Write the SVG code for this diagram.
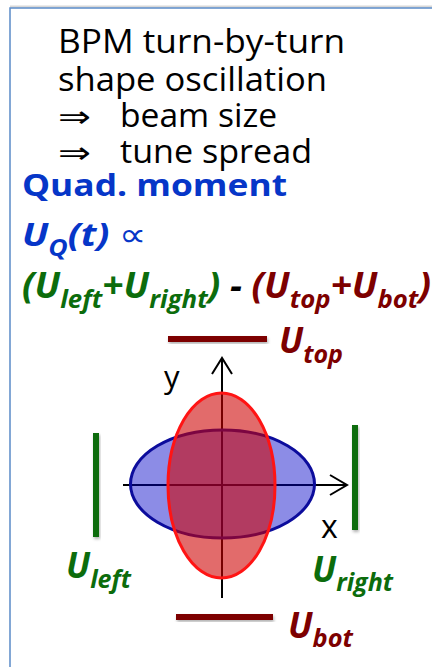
<svg xmlns="http://www.w3.org/2000/svg" width="432" height="667" viewBox="0 0 432 667">
<defs>
<style>
.txt{font-family:"Open Sans","DejaVu Sans","Liberation Sans",sans-serif;fill:#000}
.arr{font-family:"DejaVu Sans",sans-serif;font-weight:normal}
.bi{font-family:"Open Sans","Liberation Sans",sans-serif;font-weight:bold;font-style:italic}
.blue{fill:#0636c8}
.green{fill:#0c6c0c}
.dred{fill:#7d0000}
.ax{stroke:#000;stroke-width:2;fill:none}
</style>
<filter id="sh" x="-30%" y="-30%" width="160%" height="160%">
<feDropShadow dx="1" dy="2" stdDeviation="1.5" flood-color="#000" flood-opacity="0.3"/>
</filter>
</defs>
<rect width="432" height="667" fill="#fff"/>
<line x1="10" y1="6.5" x2="432" y2="6.5" stroke="#d8d8d8" stroke-width="2"/>
<rect x="10" y="8" width="440" height="680" fill="#fff" stroke="#5a8ac8" stroke-width="1.5"/>

<g id="text-block">
<text class="txt" x="58" y="53" font-size="33" textLength="287" lengthAdjust="spacingAndGlyphs">BPM turn-by-turn</text>
<text class="txt" x="58" y="91" font-size="33" textLength="269" lengthAdjust="spacingAndGlyphs">shape oscillation</text>
<text class="txt" x="58" y="127" font-size="33"><tspan class="arr" font-size="30" textLength="33" lengthAdjust="spacingAndGlyphs">⇒</tspan><tspan x="120" textLength="157" lengthAdjust="spacingAndGlyphs">beam size</tspan></text>
<text class="txt" x="58" y="163" font-size="33"><tspan class="arr" font-size="30" textLength="33" lengthAdjust="spacingAndGlyphs">⇒</tspan><tspan x="120" textLength="192" lengthAdjust="spacingAndGlyphs">tune spread</tspan></text>
<text class="blue" x="22" y="196" font-size="31" font-weight="bold" font-family="Open Sans, Liberation Sans, sans-serif" textLength="265" lengthAdjust="spacingAndGlyphs">Quad. moment</text>
<text class="bi blue" x="22" y="246" font-size="33" textLength="125" lengthAdjust="spacingAndGlyphs">U<tspan font-size="23" dy="10">Q</tspan><tspan dy="-10">(t) </tspan><tspan font-weight="normal" font-style="normal">∝</tspan></text>
<text class="bi" x="22" y="298" font-size="36" textLength="409" lengthAdjust="spacingAndGlyphs"><tspan class="green">(U</tspan><tspan class="green" font-size="25" dy="10">left</tspan><tspan class="green" dy="-10">+U</tspan><tspan class="green" font-size="25" dy="10">right</tspan><tspan class="green" dy="-10">)</tspan><tspan fill="#000"> - </tspan><tspan class="dred">(U</tspan><tspan class="dred" font-size="25" dy="10">top</tspan><tspan class="dred" dy="-10">+U</tspan><tspan class="dred" font-size="25" dy="10">bot</tspan><tspan class="dred" dy="-10">)</tspan></text>
</g>

<g id="connectors">
<line class="ax" x1="123" y1="485" x2="347" y2="485"/>
<polyline class="ax" points="330,475 347,485 330,495"/>
<line class="ax" x1="222" y1="598" x2="222" y2="358"/>
<polyline class="ax" points="212,374 222,358 232,374"/>
</g>

<g id="beam-x">
<ellipse cx="222.5" cy="484" rx="92" ry="54" fill="rgb(0,0,200)" fill-opacity="0.45" stroke="#0c0c9c" stroke-width="3"/>
</g>
<g id="beam-y">
<ellipse cx="221.5" cy="485.5" rx="53.5" ry="92.5" fill="#cd0000" fill-opacity="0.58" stroke="#ff1414" stroke-width="3"/>
</g>

<g id="axis-labels">
<text class="txt" x="164" y="388" font-size="31">y</text>
<text class="txt" x="321" y="538" font-size="32">x</text>
</g>

<g id="electrode-top">
<rect x="168" y="336" width="99" height="6" fill="#7d0000" filter="url(#sh)"/>
<text class="bi dred" x="279" y="353" font-size="35" textLength="64" lengthAdjust="spacingAndGlyphs">U<tspan font-size="25" dy="10">top</tspan></text>
</g>
<g id="electrode-bot">
<rect x="176" y="614" width="97" height="6" fill="#7d0000" filter="url(#sh)"/>
<text class="bi dred" x="288" y="638" font-size="35" textLength="65" lengthAdjust="spacingAndGlyphs">U<tspan font-size="25" dy="9">bot</tspan></text>
</g>
<g id="electrode-left">
<rect x="93" y="433" width="6" height="104" fill="#0c6c0c" filter="url(#sh)"/>
<text class="bi green" x="66" y="578" font-size="35" textLength="65" lengthAdjust="spacingAndGlyphs">U<tspan font-size="25" dy="10">left</tspan></text>
</g>
<g id="electrode-right">
<rect x="352" y="425" width="6" height="105" fill="#0c6c0c" filter="url(#sh)"/>
<text class="bi green" x="312" y="582" font-size="35" textLength="81" lengthAdjust="spacingAndGlyphs">U<tspan font-size="25" dy="9">right</tspan></text>
</g>
</svg>
